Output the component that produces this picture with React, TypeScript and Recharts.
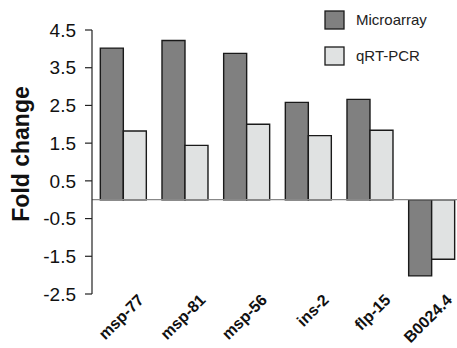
import React from "react";
import {
  BarChart,
  Bar,
  XAxis,
  YAxis,
  ReferenceLine,
  Legend,
} from "recharts";

const genes = ["msp-77", "msp-81", "msp-56", "ins-2", "flp-15", "B0024.4"];
const microarray = [4.02, 4.22, 3.88, 2.58, 2.66, -2.02];
const qrtpcr = [1.82, 1.44, 2.0, 1.7, 1.84, -1.58];
const yTicks = [-2.5, -1.5, -0.5, 0.5, 1.5, 2.5, 3.5, 4.5];

const data = genes.map((g, i) => ({
  gene: g,
  microarray: microarray[i],
  qrtpcr: qrtpcr[i],
}));

const font = "'Liberation Sans', Arial, sans-serif";

// rotated gene names, anchored at their end (upper right)
function GeneTick(props: any) {
  const { x, y, payload } = props;
  return (
    <g transform={`translate(${x + 22},${y - 1})`}>
      <text
        x={0}
        y={0}
        textAnchor="end"
        transform="rotate(-45)"
        fontFamily={font}
        fontWeight="bold"
        fontSize={16}
        fill="#111"
      >
        {payload.value}
      </text>
    </g>
  );
}

function FoldLabel() {
  return (
    <g transform="translate(29,154)">
      <text
        x={0}
        y={0}
        transform="rotate(-90)"
        textAnchor="middle"
        fontFamily={font}
        fontWeight="bold"
        fontSize={23}
        fill="#111"
      >
        Fold change
      </text>
    </g>
  );
}

function LegendBox() {
  const items = [
    { name: "Microarray", fill: "#808080", y: 11 },
    { name: "qRT-PCR", fill: "#e0e2e2", y: 47 },
  ];
  return (
    <svg width={140} height={70} style={{ position: "absolute", left: 0, top: 0 }}>
      {items.map((it) => (
        <g key={it.name}>
          <rect x={1} y={it.y} width={19} height={18} fill={it.fill} stroke="#1a1a1a" strokeWidth={1.3} />
          <text x={32} y={it.y + 14} fontFamily={font} fontSize={15} fill="#222">
            {it.name}
          </text>
        </g>
      ))}
    </svg>
  );
}

export default function App() {
  return (
    <div style={{ position: "absolute", left: 0, top: 0, width: 457, height: 348, overflow: "hidden", background: "#fff" }}>
      <BarChart
        width={466}
        height={348}
        data={data}
        margin={{ top: 30, right: 4, left: 0, bottom: 0 }}
        barCategoryGap="13.5%"
        barGap={0}
      >
        <XAxis
          dataKey="gene"
          axisLine={false}
          tickLine={false}
          height={54}
          interval={0}
          tick={<GeneTick />}
        />
        <YAxis
          width={92}
          domain={[-2.5, 4.5]}
          ticks={yTicks}
          interval={0}
          axisLine={{ stroke: "#222", strokeWidth: 1.2 }}
          tickLine={{ stroke: "#222", strokeWidth: 1.2 }}
          tickSize={7}
          tickMargin={9}
          tick={{ fontFamily: font, fontSize: 19, fill: "#111" }}
          label={<FoldLabel />}
        />
        <ReferenceLine y={0} stroke="#888" strokeWidth={1.3} />
        <Legend
          verticalAlign="top"
          align="left"
          wrapperStyle={{ position: "absolute", left: 324, top: 0, width: 140 }}
          content={() => <LegendBox />}
        />
        <Bar dataKey="microarray" fill="#808080" stroke="#1a1a1a" strokeWidth={1.4} isAnimationActive={false} />
        <Bar dataKey="qrtpcr" fill="#e0e2e2" stroke="#1a1a1a" strokeWidth={1.4} isAnimationActive={false} />
      </BarChart>
    </div>
  );
}
